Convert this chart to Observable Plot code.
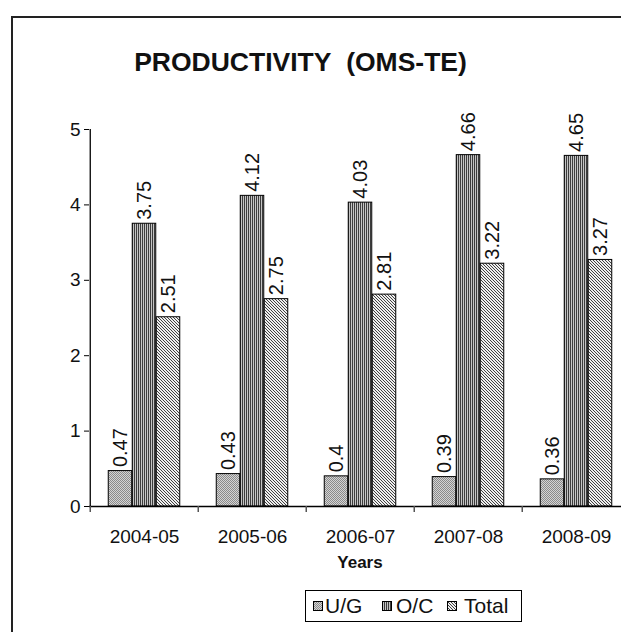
<!DOCTYPE html>
<html><head><meta charset="utf-8">
<script src="https://cdn.jsdelivr.net/npm/d3@7"></script>
<script src="https://cdn.jsdelivr.net/npm/@observablehq/plot@0.6"></script>
<style>
html,body{margin:0;padding:0;background:#fff;overflow:hidden;width:621px;height:632px;}
#wrap{position:relative;width:621px;height:632px;overflow:hidden;font-family:"Liberation Sans",Arial,sans-serif;color:#111;}
#frame{position:absolute;left:11px;top:16px;width:700px;height:700px;border:2px solid #222;box-sizing:border-box;}
#title{position:absolute;left:0;width:601px;top:46px;text-align:center;font-weight:bold;font-size:26.5px;line-height:32px;}
#chart{position:absolute;left:0;top:0;width:640px;}
#chart svg{max-width:none !important;}
#xlabel{position:absolute;left:260px;width:200px;top:552px;text-align:center;font-weight:bold;font-size:17px;line-height:22px;}
#legend{position:absolute;left:305px;top:590px;width:217px;height:32px;border:1px solid #000;box-sizing:border-box;}
.sw{position:absolute;top:10px;width:10px;height:10px;}
.lt{position:absolute;top:3px;font-size:21px;line-height:24px;}
</style></head>
<body>
<div id="wrap">
  <div id="frame"></div>
  <div id="title">PRODUCTIVITY&nbsp; (OMS-TE)</div>
  <div id="chart"></div>
  <div id="xlabel">Years</div>
  <div id="legend"></div>
</div>
<script>
const years = ["2004-05","2005-06","2006-07","2007-08","2008-09"];
const series = ["U/G","O/C","Total"];
const ugValues = [0.47,0.43,0.4,0.39,0.36];
const ocValues = [3.75,4.12,4.03,4.66,4.65];
const totalValues = [2.51,2.75,2.81,3.22,3.27];
const yTicks = [0,1,2,3,4,5];

const valuesBySeries = [ugValues, ocValues, totalValues];
const patIds = ["patUG","patOC","patTOT"];
const rows = [];
series.forEach((s, i) => years.forEach((y, j) => rows.push({year: y, series: s, value: valuesBySeries[i][j], si: i})));

const defsMarkup = `
<pattern id="patUG" patternUnits="userSpaceOnUse" width="2" height="2">
  <rect width="2" height="2" fill="#d4d4d4"/>
  <rect x="0" y="0" width="1" height="1" fill="#8a8a8a"/>
  <rect x="1" y="1" width="1" height="1" fill="#8a8a8a"/>
</pattern>
<pattern id="patOC" patternUnits="userSpaceOnUse" width="2" height="2">
  <rect width="2" height="2" fill="#c4c4c4"/>
  <rect x="0" y="0" width="1" height="2" fill="#3c3c3c"/>
</pattern>
<pattern id="patTOT" patternUnits="userSpaceOnUse" width="3" height="3">
  <rect width="3" height="3" fill="#eeeeee"/>
  <rect x="0" y="0" width="1" height="1" fill="#404040"/>
  <rect x="1" y="1" width="1" height="1" fill="#404040"/>
  <rect x="2" y="2" width="1" height="1" fill="#404040"/>
</pattern>`;

const band = (631.5 - 89) / years.length; // band width in px
const barW = 24;
const padL = (band - 3 * barW) / 2;

const marks = [];
series.forEach((s, i) => {
  const data = rows.filter(r => r.si === i);
  marks.push(Plot.barY(data, {
    x: "year", y: "value",
    fill: `url(#${patIds[i]})`, stroke: "#000", strokeWidth: 1,
    insetLeft: padL + barW * i, insetRight: band - padL - barW * (i + 1)
  }));
  marks.push(Plot.text(data, {
    x: "year", y: "value", text: d => String(d.value),
    rotate: -90, textAnchor: "start", lineAnchor: "middle",
    dx: (i - 1) * barW + 0.5, dy: -4, fontSize: 20, fill: "#111"
  }));
});

const chart = Plot.plot({
  width: 640, height: 580,
  marginLeft: 89, marginRight: 8.5, marginTop: 129, marginBottom: 74,
  style: {fontFamily: '"Liberation Sans", Arial, sans-serif', background: "transparent", overflow: "visible", maxWidth: "none"},
  x: {domain: years, padding: 0},
  y: {domain: [0, 5]},
  marks: [
    ...marks,
    Plot.ruleY([0], {stroke: "#000", strokeWidth: 1.3}),
    Plot.ruleX([years[0]], {x: d => d, dx: -band / 2, y1: 0, y2: 5, stroke: "#000", strokeWidth: 1.3}),
    Plot.axisY({ticks: yTicks, tickFormat: d => String(d), tickSize: 5, tickPadding: 4, fontSize: 19, label: null, stroke: "#000", fill: "#111"}),
    Plot.axisX({tickSize: 0, tickPadding: 23, fontSize: 19, label: null, fill: "#111"}),
    Plot.axisX({tickSize: 6, tickFormat: () => "", label: null, dx: -band / 2, stroke: "#555", strokeWidth: 1.5})
  ]
});
chart.style.maxWidth = "none";
chart.insertAdjacentHTML("afterbegin", `<defs>${defsMarkup}</defs>`);
document.getElementById("chart").appendChild(chart);

// Legend
const legendPos = [{sw: 7, tx: 19}, {sw: 76, tx: 90}, {sw: 141, tx: 158}];
const legend = document.getElementById("legend");
series.forEach((s, i) => {
  const sw = document.createElementNS("http://www.w3.org/2000/svg", "svg");
  sw.setAttribute("class", "sw");
  sw.setAttribute("width", 10); sw.setAttribute("height", 10);
  sw.style.left = legendPos[i].sw + "px";
  sw.innerHTML = `<rect x="0.5" y="0.5" width="9" height="9" fill="url(#${patIds[i]})" stroke="#000" stroke-width="1"/>`;
  legend.appendChild(sw);
  const t = document.createElement("div");
  t.className = "lt";
  t.style.left = legendPos[i].tx + "px";
  t.textContent = s;
  legend.appendChild(t);
});
</script>
</body></html>
